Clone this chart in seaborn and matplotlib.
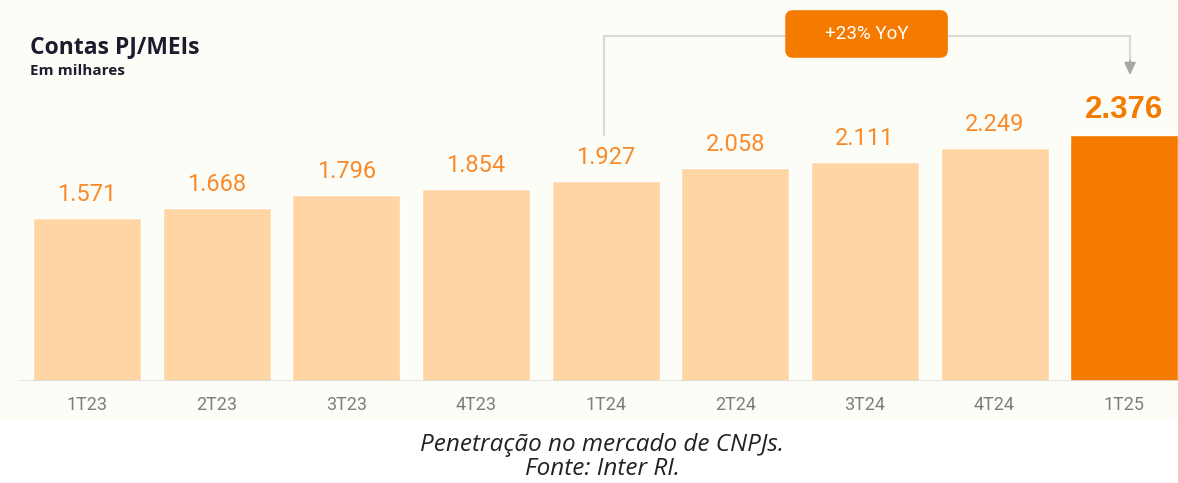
import numpy as np
import pandas as pd
import matplotlib.pyplot as plt
import seaborn as sns
from matplotlib.patches import FancyBboxPatch

# dados (milhares de contas PJ/MEI)
quarters = ["1T23", "2T23", "3T23", "4T23", "1T24", "2T24", "3T24", "4T24", "1T25"]
contas = [1.571, 1.668, 1.796, 1.854, 1.927, 2.058, 2.111, 2.249, 2.376]
value_labels = ["1.571", "1.668", "1.796", "1.854", "1.927", "2.058", "2.111", "2.249", "2.376"]
yoy_label = "+23% YoY"

light = "#FFD5A3"
dark = "#F57A00"
palette = [light] * (len(quarters) - 1) + [dark]

sns.set_style("white")
plt.rcParams['font.family'] = ['Roboto', 'DejaVu Sans']

fig = plt.figure(figsize=(11.78, 4.83), dpi=100, facecolor="white")

# fundo levemente creme da área do gráfico
ax_bg = fig.add_axes([0, 63 / 483, 1, 420 / 483])
ax_bg.set_facecolor("#FDFDF7")
ax_bg.set_xticks([])
ax_bg.set_yticks([])
for s in ax_bg.spines.values():
    s.set_visible(False)

ax = fig.add_axes([0, 102 / 483, 1, 381 / 483])
ax.set_facecolor("none")

df = pd.DataFrame({"tri": quarters, "contas": contas})
sns.barplot(data=df, x="tri", y="contas", hue="tri", palette=palette,
            legend=False, width=0.833, saturation=1, ax=ax)

ax.set_xlim(-0.67, 8.415)
ax.set_ylim(0, 3.678)
for s in ax.spines.values():
    s.set_visible(False)
ax.set_yticks([])
ax.set_xlabel("")
ax.set_ylabel("")
ax.tick_params(axis="x", length=0, pad=11, labelsize=13, labelcolor="#7d7d7d")
ax.axhline(0, xmin=20 / 1178, xmax=1, color="#dddddd", lw=1.2, zorder=3)

# rótulos de valor
for i, (v, lab) in enumerate(zip(contas, value_labels)):
    last = i == len(contas) - 1
    ax.annotate(lab, (i, v), xytext=(0, 12.2), textcoords="offset points",
                ha="center", va="baseline",
                fontsize=22.5 if last else 17,
                fontweight="bold" if last else "normal",
                family=["Liberation Sans"] if last else ["Roboto"],
                color=dark if last else "#F98A2A")

# chave de crescimento 1T24 -> 1T25
x0, x1 = 4 - 0.015, 8 + 0.045
y_top, y_bot, y_tip = 3.33, 2.375, 2.954
ax.plot([x0, x0, x1, x1], [y_bot, y_top, y_top, y_tip + 0.12],
        color="#d9d9d9", lw=1.6, solid_joinstyle="miter", clip_on=False, zorder=2)
ax.annotate("", xy=(x1, y_tip), xytext=(x1, y_tip + 0.14),
            arrowprops=dict(arrowstyle="-|>,head_length=0.75,head_width=0.35",
                            color="#a6a6a6", lw=1.2, shrinkA=0, shrinkB=0))
box = FancyBboxPatch((5.386, 3.12), 1.254, 0.46,
                     boxstyle="round,pad=0,rounding_size=0.06",
                     mutation_aspect=129.6 / 103.6,
                     facecolor=dark, edgecolor="none", clip_on=False, zorder=4)
ax.add_patch(box)
ax.text(6.013, 3.35, yoy_label, ha="center", va="center", color="white",
        fontsize=13.5, zorder=5)

# título
fig.text(30 / 1178, (483 - 53) / 483, "Contas PJ/MEIs", fontsize=16.5,
         fontweight="bold", family=["Open Sans"], color="#1b1c2e",
         ha="left", va="baseline")
fig.text(30 / 1178, (483 - 75) / 483, "Em milhares", fontsize=11,
         fontweight="bold", family=["Open Sans"], color="#1b1c2e",
         ha="left", va="baseline")

# legenda inferior
fig.text(602 / 1178, (483 - 451) / 483, "Penetração no mercado de CNPJs.",
         fontsize=17.5, style="italic", family=["Open Sans"], color="#222222",
         ha="center", va="baseline")
fig.text(602 / 1178, (483 - 475) / 483, "Fonte: Inter RI.",
         fontsize=17.5, style="italic", family=["Open Sans"], color="#222222",
         ha="center", va="baseline")

fig.savefig("out.png", dpi=100, facecolor="white")
